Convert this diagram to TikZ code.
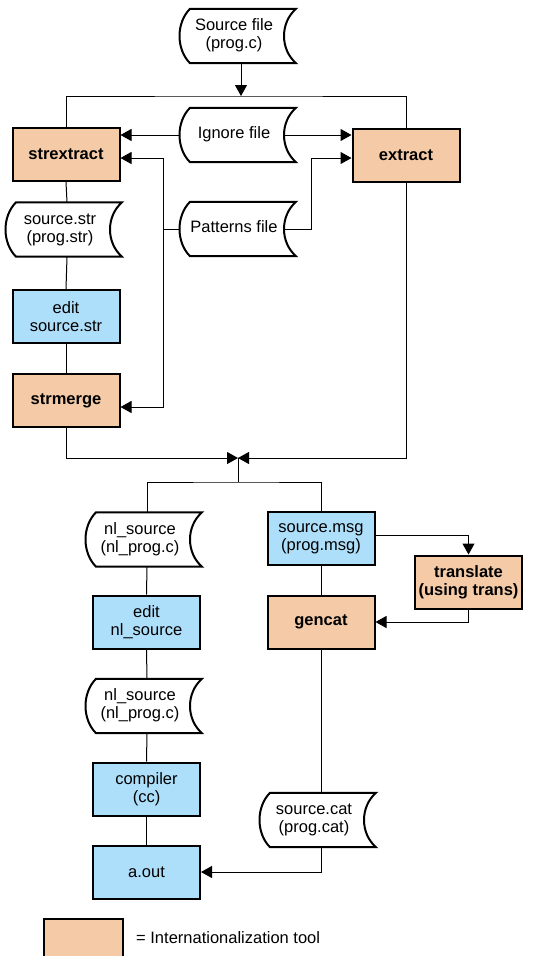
\documentclass[tikz,border=0pt]{standalone}
\usepackage{fontspec}
\setmainfont{Liberation Sans}
\usetikzlibrary{arrows.meta,backgrounds}
\definecolor{peach}{RGB}{245,203,167}
\definecolor{skyb}{RGB}{174,223,250}
\newcommand\doctext[1]{\hspace*{-14pt}\begin{tabular}{@{}c@{}}#1\end{tabular}}
\newcommand\docoutline[1]{%
  \begin{scope}[on background layer]
  \path[docline] ([xshift=-51pt]#1.north) -- ([xshift=55pt]#1.north)
    .. controls +(-16,14) and +(-16,-14) .. ([xshift=55pt]#1.south)
    -- ([xshift=-51pt]#1.south)
    .. controls +(-14,-14) and +(-14,14) .. cycle;
  \end{scope}}
\tikzset{
  base/.style={font=\fontsize{16.5}{18}\selectfont, inner sep=0pt},
  tool/.style={base, draw=black, line width=2pt, fill=peach, minimum width=107pt, minimum height=53pt, align=center, font=\fontsize{16.5}{18}\selectfont\bfseries},
  task/.style={base, draw=black, line width=2pt, fill=skyb, minimum width=107pt, minimum height=53pt, align=center},
  doc/.style={base, minimum width=124pt, minimum height=54pt},
  docline/.style={draw=black, line width=2pt, fill=white, line join=miter},
  conn/.style={line width=1pt, draw=black},
  arr/.style={conn, -{Triangle[length=11pt,width=12pt]}},
}
\begin{document}
\begin{tikzpicture}[x=1pt,y=-1pt]
\useasboundingbox (0,0) rectangle (542,956);
% documents
\node[doc] (src) at (241,36) {\doctext{Source file\\(prog.c)}};
\node[doc] (ign) at (241,135) {\doctext{Ignore file}};
\node[doc] (pat) at (241,229) {\doctext{Patterns file}};
\node[doc] (sstr) at (67,229.5) {\doctext{source.str\\(prog.str)}};
\node[doc] (nla) at (147,539.5) {\doctext{nl\_source\\(nl\_prog.c)}};
\node[doc] (nlb) at (147,706) {\doctext{nl\_source\\(nl\_prog.c)}};
\node[doc] (cat) at (321,820) {\doctext{source.cat\\(prog.cat)}};
\docoutline{src}\docoutline{ign}\docoutline{pat}\docoutline{sstr}
\docoutline{nla}\docoutline{nlb}\docoutline{cat}
% boxes
\node[tool] (strx) at (66,154.5) {strextract};
\node[tool] (extr) at (406,155) {extract};
\node[task] (edstr) at (66,316.5) {edit\\source.str};
\node[tool] (strm) at (66,400.5) {strmerge};
\node[task] (msg) at (321,538.5) {source.msg\\(prog.msg)};
\node[tool] (trans) at (468.5,582) {translate\\(using trans)};
\node[tool] (gen) at (321,622) {gencat};
\node[task] (ednl) at (146.5,622) {edit\\nl\_source};
\node[task] (cc) at (146.5,789) {compiler\\(cc)};
\node[task] (aout) at (146.5,872) {a.out};
% coordinates
\coordinate (top) at (241,96);
\coordinate (pl) at (163,229);
\coordinate (pr) at (311,229);
\coordinate (hi) at (0,158);
\coordinate (lo) at (0,407);
\coordinate (mj) at (238,458);
\coordinate (bj) at (238,482);
\coordinate (ml) at (0,535);
% connectors
\draw[arr] (src.south) -- (top);
\draw[conn] (strx.north) |- (top) -| (extr.north);
\draw[arr] (ign.west) -- (strx.east |- ign.west);
\draw[arr] ([xshift=-18pt]ign.east) -- (extr.west |- ign.east);
\draw[conn] (pat.west) -- (pl);
\draw[arr] (pl) |- (strx.east |- hi);
\draw[arr] (pl) |- (strm.east |- lo);
\draw[arr] ([xshift=-18pt]pat.east) -- (pr) |- (extr.west |- hi);
\draw[conn] (strx.south) -- (sstr.north);
\draw[conn] (sstr.south) -- (edstr.north);
\draw[conn] (edstr.south) -- (strm.north);
\draw[arr] (strm.south) |- (mj);
\draw[arr] (extr.south) |- (mj);
\draw[conn] (mj) -- (bj);
\draw[conn] (nla.north) |- (bj) -| (msg.north);
\draw[conn] (nla.south) -- (ednl.north);
\draw[conn] (ednl.south) -- (nlb.north);
\draw[conn] (nlb.south) -- (cc.north);
\draw[conn] (cc.south) -- (aout.north);
\draw[conn] (msg.south) -- (gen.north);
\draw[arr] (msg.east |- ml) -| (trans.north);
\draw[arr] (trans.south) |- (gen.east);
\draw[conn] (gen.south) -- (cat.north);
\draw[arr] (cat.south) |- (aout.east);
% legend
\node[base, draw=black, line width=2pt, fill=peach, minimum width=79pt, minimum height=39pt] (leg) at (83.5,938.5) {};
\node[base, anchor=west] (legt) at (136,938) {= Internationalization tool};
\end{tikzpicture}
\end{document}
